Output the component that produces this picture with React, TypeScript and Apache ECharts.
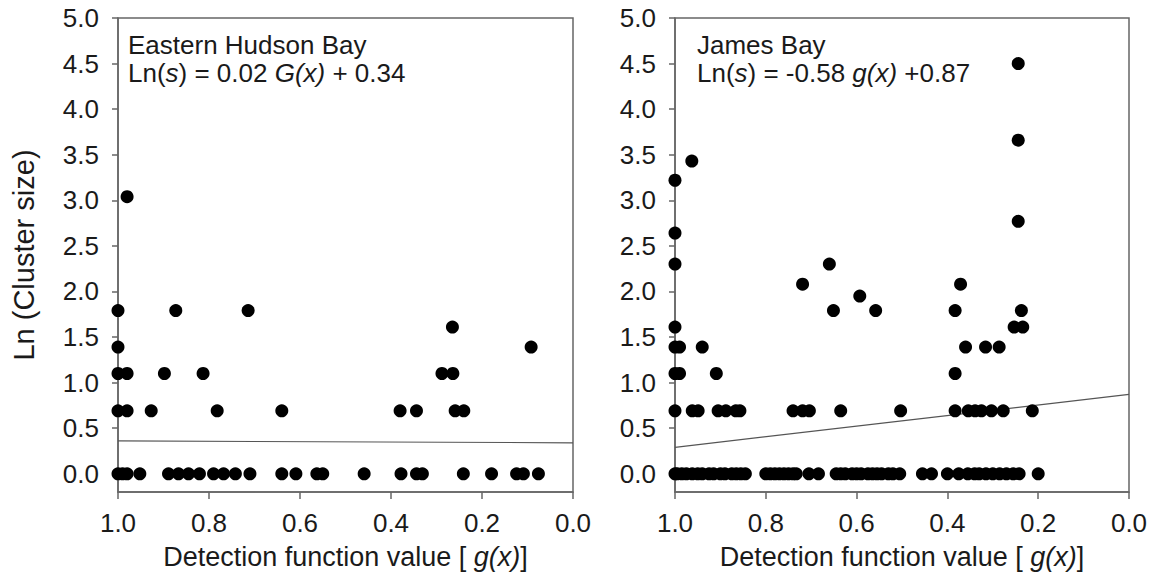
import React, { useEffect, useRef } from "react";
import * as echarts from "echarts";

// ---- Data ----
// Eastern Hudson Bay: detection function value g(x) and Ln(cluster size)
const eastGx = [
  0.98,
  1.0, 0.873, 0.714,
  0.265,
  1.0, 0.092,
  1.0, 0.98, 0.898, 0.813, 0.288, 0.264,
  1.0, 0.98, 0.927, 0.782, 0.64, 0.38, 0.344, 0.259, 0.24,
  1.0, 0.99, 0.98, 0.952, 0.889, 0.867, 0.845, 0.821, 0.79, 0.768, 0.742, 0.71,
  0.64, 0.609, 0.563, 0.55, 0.459, 0.378, 0.344, 0.331, 0.241, 0.179, 0.124, 0.109, 0.076,
];
const eastLnS = [
  3.04,
  1.79, 1.79, 1.79,
  1.61,
  1.39, 1.39,
  1.1, 1.1, 1.1, 1.1, 1.1, 1.1,
  0.69, 0.69, 0.69, 0.69, 0.69, 0.69, 0.69, 0.69, 0.69,
  0, 0, 0, 0, 0, 0, 0, 0, 0, 0, 0, 0,
  0, 0, 0, 0, 0, 0, 0, 0, 0, 0, 0, 0, 0,
];

// James Bay
const jamesGx = [
  0.963, 1.0, 1.0, 1.0, 1.0,
  1.0, 0.99, 0.94, 0.36, 0.316, 0.286,
  1.0, 0.99, 0.909, 0.383,
  0.719, 0.371,
  0.66,
  0.651, 0.558, 0.383, 0.237,
  0.593,
  0.244, 0.244, 0.244,
  0.253, 0.234,
  1.0, 0.962, 0.949, 0.905, 0.888, 0.866, 0.857, 0.74, 0.719, 0.704, 0.635, 0.503,
  0.383, 0.354, 0.339, 0.325, 0.303, 0.277, 0.213,
  1.0, 0.995, 0.985, 0.975, 0.962, 0.95, 0.94, 0.925, 0.915, 0.9, 0.89, 0.875, 0.865, 0.855, 0.845,
  0.8, 0.79, 0.78, 0.77, 0.76, 0.75, 0.74, 0.733, 0.705, 0.684,
  0.645, 0.635, 0.625, 0.61, 0.6, 0.59, 0.575, 0.565, 0.555, 0.545, 0.53, 0.52, 0.505,
  0.455, 0.435, 0.4, 0.375, 0.355,
  0.34, 0.33, 0.315, 0.3, 0.285, 0.27, 0.255, 0.242, 0.2,
];
const jamesLnS = [
  3.43, 3.22, 2.64, 2.3, 1.61,
  1.39, 1.39, 1.39, 1.39, 1.39, 1.39,
  1.1, 1.1, 1.1, 1.1,
  2.08, 2.08,
  2.3,
  1.79, 1.79, 1.79, 1.79,
  1.95,
  4.5, 3.66, 2.77,
  1.61, 1.61,
  0.69, 0.69, 0.69, 0.69, 0.69, 0.69, 0.69, 0.69, 0.69, 0.69, 0.69, 0.69,
  0.69, 0.69, 0.69, 0.69, 0.69, 0.69, 0.69,
  0, 0, 0, 0, 0, 0, 0, 0, 0, 0, 0, 0, 0, 0, 0,
  0, 0, 0, 0, 0, 0, 0, 0, 0, 0,
  0, 0, 0, 0, 0, 0, 0, 0, 0, 0, 0, 0, 0,
  0, 0, 0, 0, 0,
  0, 0, 0, 0, 0, 0, 0, 0, 0,
];

// Regression lines: Ln(s) = slope * g(x) + intercept
const regSlopes = [0.02, -0.58];
const regIntercepts = [0.34, 0.87];
const regXRange = [1, 0];

const yTicks = [0, 0.5, 1, 1.5, 2, 2.5, 3, 3.5, 4, 4.5, 5];
const panelTitles = ["Eastern Hudson Bay", "James Bay"];

const FONT = "'Liberation Sans', Arial, Helvetica, sans-serif";
const AXIS_COLOR = "#666";
const TEXT_COLOR = "#1a1a1a";

const zip = (xs: number[], ys: number[]) => xs.map((x, i) => [x, ys[i]]);

export default function App() {
  const ref = useRef<HTMLDivElement>(null);

  useEffect(() => {
    if (!ref.current) return;
    const chart = echarts.init(ref.current, undefined, { renderer: "svg" });

    const grids = [
      { left: 118, top: 18, width: 455, height: 474 },
      { left: 675, top: 18, width: 454, height: 474 },
    ];

    const xAxis = grids.map((_, i) => ({
      type: "value",
      gridIndex: i,
      min: 0,
      max: 1,
      interval: 0.2,
      inverse: true,
      axisLine: { show: true, onZero: false, lineStyle: { color: AXIS_COLOR, width: 1.5 } },
      axisTick: { show: true, length: 7, lineStyle: { color: AXIS_COLOR, width: 1.5 } },
      axisLabel: {
        fontSize: 26,
        fontFamily: FONT,
        color: TEXT_COLOR,
        margin: 18,
        formatter: (v: number) => v.toFixed(1),
      },
      splitLine: { show: false },
      name: "{n|Detection function value [ }{i|g(x)}{n|]}",
      nameLocation: "middle",
      nameGap: 51,
      nameTextStyle: {
        fontSize: 27,
        fontFamily: FONT,
        color: TEXT_COLOR,
        rich: {
          n: { fontSize: 27, fontFamily: FONT, color: TEXT_COLOR },
          i: { fontSize: 27, fontFamily: FONT, color: TEXT_COLOR, fontStyle: "italic" },
        },
      },
    }));

    const yAxis = grids.map((_, i) => ({
      type: "value",
      gridIndex: i,
      min: -0.2,
      max: 5,
      axisLine: { show: true, onZero: false, lineStyle: { color: AXIS_COLOR, width: 1.5 } },
      axisTick: {
        show: true,
        length: 6,
        customValues: yTicks,
        lineStyle: { color: AXIS_COLOR, width: 1.5 },
      },
      axisLabel: {
        fontSize: 26,
        fontFamily: FONT,
        color: TEXT_COLOR,
        margin: 19,
        customValues: yTicks,
        formatter: (v: number) => v.toFixed(1),
      },
      splitLine: { show: false },
      name: i === 0 ? "Ln (Cluster size)" : "",
      nameLocation: "middle",
      nameGap: 80,
      nameTextStyle: { fontSize: 29, fontFamily: FONT, color: TEXT_COLOR },
    }));

    const scatterData = [zip(eastGx, eastLnS), zip(jamesGx, jamesLnS)];

    const series: any[] = [];
    scatterData.forEach((d, i) => {
      series.push({
        type: "scatter",
        xAxisIndex: i,
        yAxisIndex: i,
        data: d,
        symbol: "circle",
        symbolSize: 13,
        itemStyle: { color: "#000", opacity: 1 },
        z: 3,
      });
      series.push({
        type: "line",
        xAxisIndex: i,
        yAxisIndex: i,
        data: regXRange.map((x) => [x, regSlopes[i] * x + regIntercepts[i]]),
        showSymbol: false,
        symbol: "none",
        lineStyle: { color: "#555", width: 1.2 },
        z: 2,
      });
    });

    const rich = {
      n: { fontSize: 26, fontFamily: FONT, fill: TEXT_COLOR },
      i: { fontSize: 26, fontFamily: FONT, fill: TEXT_COLOR, fontStyle: "italic" },
    };

    const annotations = [
      { x: 128, title: panelTitles[0], eq: "{n|Ln(}{i|s}{n|) = 0.02 }{i|G(x)}{n| + 0.34}" },
      { x: 697, title: panelTitles[1], eq: "{n|Ln(}{i|s}{n|) = -0.58 }{i|g(x)}{n| +0.87}" },
    ];

    const graphic: any[] = [];
    annotations.forEach((a) => {
      graphic.push({
        type: "text",
        x: a.x,
        y: 45,
        style: {
          text: a.title,
          fontSize: 26,
          fontFamily: FONT,
          fill: TEXT_COLOR,
          verticalAlign: "middle",
        },
        z: 10,
      });
      graphic.push({
        type: "text",
        x: a.x,
        y: 73,
        style: {
          text: a.eq,
          rich,
          fontSize: 26,
          fontFamily: FONT,
          fill: TEXT_COLOR,
          verticalAlign: "middle",
        },
        z: 10,
      });
    });

    chart.setOption({
      animation: false,
      backgroundColor: "#fff",
      grid: grids.map((g) => ({
        ...g,
        show: true,
        borderColor: AXIS_COLOR,
        borderWidth: 1.5,
        backgroundColor: "transparent",
        containLabel: false,
      })),
      xAxis,
      yAxis,
      series,
      graphic,
    });

    return () => chart.dispose();
  }, []);

  return <div ref={ref} style={{ width: 1156, height: 584, marginLeft: -8, marginTop: -8 }} />;
}
